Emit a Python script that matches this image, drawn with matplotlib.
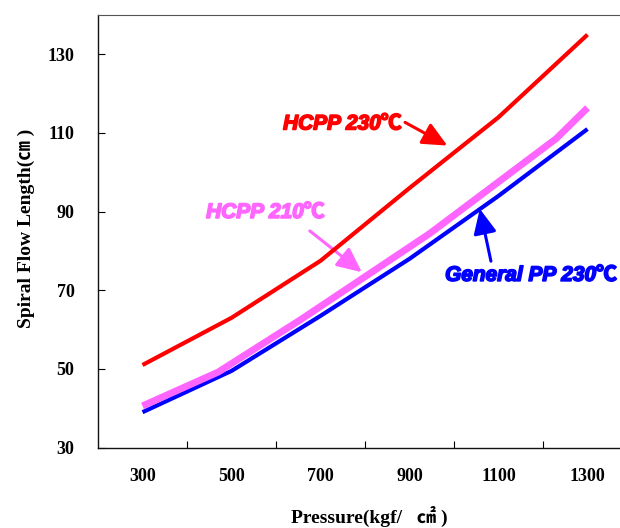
import matplotlib.pyplot as plt
import matplotlib.patheffects as pe

# readings from the chart
pressure = [300, 500, 700, 900, 1100, 1300]
hcpp_230 = [51, 63, 77.5, 96, 114, 135]
general_pp_230 = [39, 49.5, 63.5, 78, 94, 111]
# the pink curve bends at slightly different places
pressure_210 = [300, 470, 655, 945, 1230, 1300]
hcpp_210 = [40.6, 49.2, 62.5, 84.4, 108.6, 116.4]

x_labels = ['300', '500', '700', '900', '1100', '1300']
y_ticks = [30, 50, 70, 90, 110, 130]

red = '#FF0000'
blue = '#0000FF'
pink = '#FF66FF'

fig = plt.figure(figsize=(6.2, 5.28), dpi=100)
ax = fig.add_axes([98 / 620, 1 - 447.6 / 528, 534 / 620, 432.6 / 528])

ax.plot(pressure, general_pp_230, color=blue, lw=3, solid_capstyle='butt', zorder=2)
ax.plot(pressure_210, hcpp_210, color=pink, lw=5, solid_capstyle='butt', zorder=3)
ax.plot(pressure, hcpp_230, color=red, lw=3, solid_capstyle='butt', zorder=4)

ax.set_xlim(200, 1400)
ax.set_ylim(30, 140)

# tick marks sit between the labels (category style axis)
ax.set_xticks([400, 600, 800, 1000, 1200])
ax.set_xticklabels([])
ax.set_xticks(pressure, minor=True)
ax.set_xticklabels(x_labels, minor=True)
ax.tick_params(axis='x', which='major', direction='in', length=5, width=0.8)
ax.tick_params(axis='x', which='minor', length=0, pad=15)
ax.set_yticks(y_ticks)
ax.tick_params(axis='y', direction='in', length=5, width=0.8, pad=17)

for lab in ax.get_xticklabels(minor=True) + ax.get_yticklabels():
    lab.set_family('Liberation Serif')
    lab.set_fontweight('bold')
    lab.set_fontsize(13)

ax.spines['right'].set_visible(False)
ax.spines['top'].set_color('#555555')
ax.spines['top'].set_linewidth(0.8)
for s in ['left', 'bottom']:
    ax.spines[s].set_color('#111111')
    ax.spines[s].set_linewidth(1.0)

lab_font = ['Liberation Serif', 'Noto Sans CJK KR']
fig.text(369 / 620, 1 - 516 / 528, 'Pressure(kgf/   ㎠ )', ha='center', va='center',
         fontsize=14, fontweight='bold', family=lab_font)
fig.text(26 / 620, 1 - 228 / 528, 'Spiral Flow Length(㎝ )', ha='center', va='center',
         rotation=90, fontsize=14, fontweight='bold', family=lab_font)

# curve labels with arrows
note_font = ['Liberation Sans', 'Noto Sans CJK KR']
notes = [(616, 112.3, 'HCPP 230℃', red),
         (443, 89.8, 'HCPP 210℃', pink),
         (980, 73.8, 'General PP 230℃', blue)]
for x, y, txt, c in notes:
    ax.text(x, y, txt, color=c, fontsize=15, fontweight='bold', fontstyle='italic',
            family=note_font, ha='left', va='center',
            path_effects=[pe.withStroke(linewidth=1.2, foreground=c)])

arrow = '-|>,head_length=0.75,head_width=0.35'
ax.annotate('', xy=(985, 106.8), xytext=(890, 112.7),
            arrowprops=dict(arrowstyle=arrow, mutation_scale=20, color=red, lw=2.2,
                            shrinkA=0, shrinkB=0))
ax.annotate('', xy=(793, 74.6), xytext=(676, 85.1),
            arrowprops=dict(arrowstyle=arrow, mutation_scale=20, color=pink, lw=2.2,
                            shrinkA=0, shrinkB=0))
ax.annotate('', xy=(1058, 90.7), xytext=(1083, 77.4),
            arrowprops=dict(arrowstyle=arrow, mutation_scale=20, color=blue, lw=2.2,
                            shrinkA=0, shrinkB=0))

fig.savefig('out.png', dpi=100)
